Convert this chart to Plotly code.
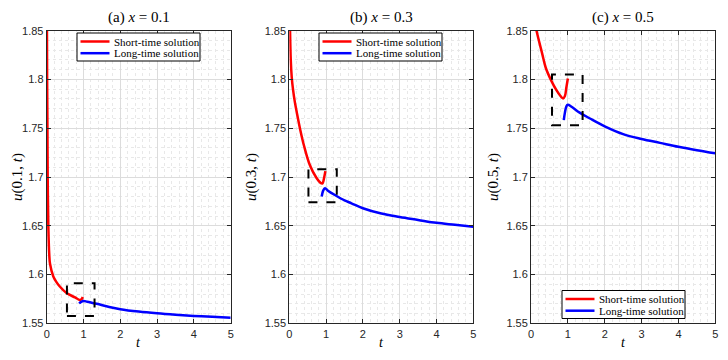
import plotly.graph_objects as go
from plotly.subplots import make_subplots

# (a) x = 0.1
a_short_t = [0.004, 0.012, 0.02, 0.027, 0.044, 0.07, 0.09, 0.18, 0.27, 0.35, 0.54, 0.77, 0.9, 0.95, 0.98]
a_short_u = [1.88, 1.80, 1.75, 1.70, 1.65, 1.62, 1.611, 1.598, 1.592, 1.588, 1.581, 1.5765, 1.5740, 1.5748, 1.5770]
a_long_t = [0.88, 0.93, 1.0, 1.1, 1.36, 1.7, 2.0, 2.5, 3.0, 3.5, 4.0, 4.5, 5.0]
a_long_u = [1.5705, 1.5718, 1.5728, 1.5722, 1.5700, 1.5668, 1.5645, 1.5620, 1.5602, 1.5588, 1.5576, 1.5566, 1.5557]
a_box_t = [0.55, 1.30]
a_box_u = [1.5575, 1.591]

# (b) x = 0.3
b_short_t = [0.02, 0.04, 0.065, 0.1, 0.15, 0.2, 0.3, 0.4, 0.56, 0.74, 0.85, 0.9, 0.95, 0.98]
b_short_u = [1.85, 1.82, 1.803, 1.79, 1.777, 1.767, 1.748, 1.732, 1.712, 1.699, 1.694, 1.6935, 1.700, 1.706]
b_long_t = [0.88, 0.92, 0.97, 1.05, 1.24, 1.5, 1.69, 2.0, 2.5, 3.0, 3.5, 4.0, 4.5, 5.0]
b_long_u = [1.680, 1.686, 1.6884, 1.686, 1.6815, 1.676, 1.673, 1.668, 1.6625, 1.659, 1.656, 1.653, 1.651, 1.649]
b_box_t = [0.52, 1.29]
b_box_u = [1.674, 1.708]

# (c) x = 0.5
c_short_t = [0.15, 0.2, 0.3, 0.4, 0.56, 0.69, 0.8, 0.87, 0.92, 0.96, 1.0]
c_short_u = [1.85, 1.842, 1.827, 1.812, 1.798, 1.789, 1.783, 1.7806, 1.783, 1.792, 1.801]
c_long_t = [0.89, 0.92, 0.96, 1.0, 1.1, 1.32, 1.6, 2.0, 2.5, 3.0, 3.5, 4.0, 4.5, 5.0]
c_long_u = [1.7584, 1.766, 1.7725, 1.774, 1.772, 1.766, 1.760, 1.752, 1.744, 1.739, 1.735, 1.731, 1.7275, 1.7243]
c_box_t = [0.57, 1.40]
c_box_u = [1.753, 1.805]

series_names = ["Short-time solution", "Long-time solution"]
series_colors = ["#ff0000", "#0000ff"]

panels = [
    ("(a) <i>x</i> = 0.1", "<i>u</i>(0.1, <i>t</i>)", a_short_t, a_short_u, a_long_t, a_long_u, a_box_t, a_box_u),
    ("(b) <i>x</i> = 0.3", "<i>u</i>(0.3, <i>t</i>)", b_short_t, b_short_u, b_long_t, b_long_u, b_box_t, b_box_u),
    ("(c) <i>x</i> = 0.5", "<i>u</i>(0.5, <i>t</i>)", c_short_t, c_short_u, c_long_t, c_long_u, c_box_t, c_box_u),
]

x_ticks = [0, 1, 2, 3, 4, 5]
y_ticks = [1.55, 1.6, 1.65, 1.7, 1.75, 1.8, 1.85]
y_ticktext = ["1.55", "1.6", "1.65", "1.7", "1.75", "1.8", "1.85"]

# page body has an 8px margin, so the figure is a bit smaller and shifted
OFF = 8
W, H = 712, 344


def px(x):
    return (x - OFF) / W


def py(y):
    return 1 - (y - OFF) / H


x_domains = [(46.7, 230.7), (289.3, 473.3), (531.0, 715.3)]
y_domain = [py(323.3), py(30.7)]
legend_box = [(77, 33), (319, 33), (562, 290.5)]   # top-left of each legend box
ylabel_x = [17, 251, 493]

SERIF = "Liberation Serif, DejaVu Serif, serif"
SANS = "Liberation Sans, Arial, sans-serif"
AX = "#262626"

fig = make_subplots(rows=1, cols=3)

for i, (title, ylab, st, su, lt, lu, bt, bu) in enumerate(panels):
    fig.add_trace(go.Scatter(x=st, y=su, mode="lines", name=series_names[0],
                             line=dict(color=series_colors[0], width=2.5, shape="spline")),
                  row=1, col=i + 1)
    fig.add_trace(go.Scatter(x=lt, y=lu, mode="lines", name=series_names[1],
                             line=dict(color=series_colors[1], width=2.5, shape="spline")),
                  row=1, col=i + 1)
    fig.add_shape(type="rect", x0=bt[0], x1=bt[1], y0=bu[0], y1=bu[1],
                  line=dict(color="black", width=2, dash="dash"), row=1, col=i + 1)

    x0, x1 = x_domains[i]
    xd = [px(x0), px(x1)]
    fig.update_xaxes(domain=xd, range=[0, 5], tickvals=x_ticks, row=1, col=i + 1)
    fig.update_yaxes(domain=y_domain, range=[1.55, 1.85], tickvals=y_ticks, ticktext=y_ticktext,
                     row=1, col=i + 1)

    # legend box (MATLAB style, compact)
    lx, ly = legend_box[i]
    fig.add_shape(type="rect", xref="paper", yref="paper",
                  x0=px(lx), x1=px(lx + 123), y0=py(ly), y1=py(ly + 28),
                  line=dict(color="black", width=1), fillcolor="white", layer="above")
    for k in range(2):
        row_y = ly + 8.5 + k * 11.7
        fig.add_shape(type="line", xref="paper", yref="paper",
                      x0=px(lx + 3.5), x1=px(lx + 32.5), y0=py(row_y), y1=py(row_y),
                      line=dict(color=series_colors[k], width=2.5), layer="above")
        fig.add_annotation(text=series_names[k], x=px(lx + 35), y=py(row_y),
                           xref="paper", yref="paper", xanchor="left", yanchor="middle",
                           showarrow=False, font=dict(family=SERIF, size=11, color="black"))

    cx = (xd[0] + xd[1]) / 2
    fig.add_annotation(text=title, x=cx, y=py(17), xref="paper", yref="paper",
                       xanchor="center", yanchor="middle", showarrow=False,
                       font=dict(family=SERIF, size=15, color="black"))
    fig.add_annotation(text=ylab, x=px(ylabel_x[i]), y=(y_domain[0] + y_domain[1]) / 2,
                       xref="paper", yref="paper", xanchor="center", yanchor="middle",
                       textangle=-90, showarrow=False,
                       font=dict(family=SERIF, size=15, color="black"))
    fig.add_annotation(text="<i>t</i>", x=cx, y=0, xref="paper", yref="paper",
                       xanchor="center", yanchor="bottom", showarrow=False,
                       font=dict(family=SERIF, size=14, color="black"))

axis_style = dict(
    showline=True, linecolor=AX, linewidth=1, mirror="ticks",
    ticks="inside", ticklen=4, tickcolor=AX,
    showgrid=True, gridcolor="#dcdcdc", gridwidth=1, zeroline=False,
    automargin=False,
    tickfont=dict(family=SANS, size=11, color=AX),
)
fig.update_xaxes(**axis_style, minor=dict(dtick=0.2, showgrid=True, gridcolor="#e8e8e8",
                                          griddash="dot", ticks=""))
fig.update_yaxes(**axis_style, minor=dict(dtick=0.01, showgrid=True, gridcolor="#e8e8e8",
                                          griddash="dot", ticks=""))

fig.update_layout(
    width=W, height=H,
    margin=dict(l=0, r=0, t=0, b=0, autoexpand=False),
    paper_bgcolor="white", plot_bgcolor="white",
    showlegend=False,
)

fig.write_html("out.html")
